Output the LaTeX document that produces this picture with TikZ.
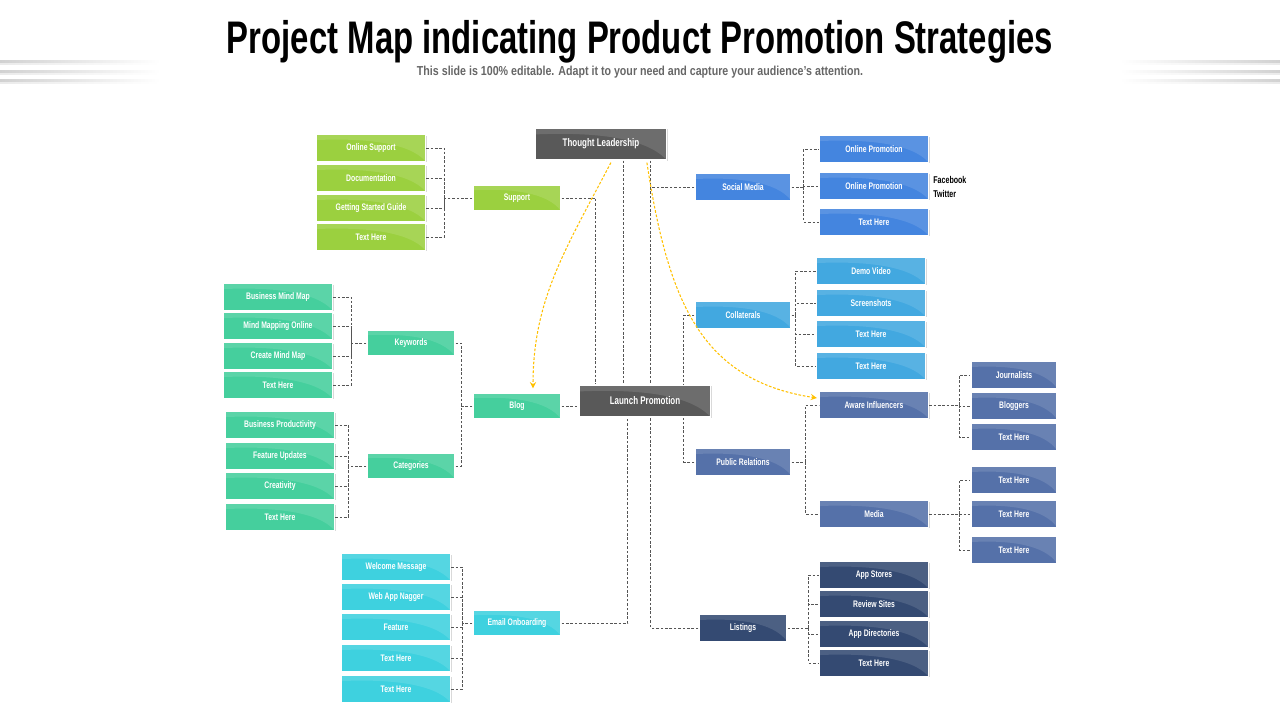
\documentclass[tikz,border=0pt]{standalone}
\usepackage{fontspec}
\setmainfont{Liberation Sans}
\newfontfamily\cond[FakeStretch=0.72]{Liberation Sans}
\newfontfamily\subcond[FakeStretch=0.82]{Liberation Sans}
\usetikzlibrary{calc,shadows}

\definecolor{darkbox}{HTML}{595959}
\definecolor{leafgreen}{HTML}{9BD03F}
\definecolor{teal}{HTML}{45CF9D}
\definecolor{cyanbox}{HTML}{3ED1DF}
\definecolor{bluebox}{HTML}{4485DF}
\definecolor{skybox}{HTML}{42A8E0}
\definecolor{slatebox}{HTML}{5571A9}
\definecolor{navybox}{HTML}{344A72}
\definecolor{linkgray}{HTML}{555555}
\definecolor{gold}{HTML}{FFC000}

\begin{document}
\begin{tikzpicture}[x=0.02cm, y=-0.02cm, >=stealth,
  box/.style={draw=white, line width=0.7pt, inner sep=0pt, minimum height=0.53cm,
    text=white, font=\cond\bfseries\fontsize{5.4}{6}\selectfont,
    drop shadow={opacity=0.3, shadow xshift=0.6pt, shadow yshift=-0.6pt},
    path picture={
      \fill[white, opacity=0.12] let \p1=(path picture bounding box.south west),
        \p2=(path picture bounding box.north east) in
        (\x1,\y2) -- (\x1,{\y2-0.2*(\y2-\y1)})
        .. controls ({\x1+0.45*(\x2-\x1)},{\y2-0.12*(\y2-\y1)}) and ({\x1+0.85*(\x2-\x1)},{\y2-0.3*(\y2-\y1)})
        .. (\x2,\y1) -- (\x2,\y2) -- cycle;
    }},
  bigbox/.style={box, fill=darkbox, minimum width=2.62cm, minimum height=0.64cm,
    font=\cond\bfseries\fontsize{6.3}{7}\selectfont},
  midbox/.style={box, minimum width=1.76cm, minimum height=0.52cm},
  leaf/.style={box, minimum width=2.18cm},
  branch/.style={box, minimum width=1.92cm},
  small/.style={box, minimum width=1.72cm},
  link/.style={draw=linkgray, line width=0.5pt, dash pattern=on 1.5pt off 1pt},
  hint/.style={draw=gold, line width=0.6pt, dash pattern=on 1.5pt off 1pt, ->},
  tag/.style={anchor=west, inner sep=0pt, font=\cond\bfseries\fontsize{5.6}{6}\selectfont}]

\useasboundingbox (0,0) rectangle (1280,720);

% title
\node (title) at (640,42) {\cond\bfseries\fontsize{26}{30}\selectfont Project Map indicating Product Promotion Strategies};
\node[text=black!60] (subtitle) at (640,72) {\subcond\bfseries\fontsize{7.4}{9}\selectfont This slide is 100\% editable. Adapt it to your need and capture your audience’s attention.};
\foreach \y in {60.5,70.5,79.5} {
  \shade[left color=black!18, right color=white] (0,\y) rectangle (160,\y+2);
  \shade[left color=black!8, right color=white] (0,\y+2.5) rectangle (160,\y+3.5);
  \shade[right color=black!18, left color=white] (1120,\y) rectangle (1280,\y+2);
  \shade[right color=black!8, left color=white] (1120,\y+2.5) rectangle (1280,\y+3.5);
}

% main boxes
\node[bigbox] (tl) at (601,144) {Thought Leadership};
\node[bigbox] (lp) at (645,401) {Launch Promotion};

% support
\node[midbox, fill=leafgreen] (sup) at (517,198) {Support};
\node[leaf, fill=leafgreen] (s1) at (371,148) {Online Support};
\node[leaf, fill=leafgreen] (s2) at (371,178) {Documentation};
\node[leaf, fill=leafgreen] (s3) at (371,208) {Getting Started Guide};
\node[leaf, fill=leafgreen] (s4) at (371,237) {Text Here};

% blog
\node[midbox, fill=teal] (blog) at (517,406) {Blog};
\node[midbox, fill=teal] (kw) at (411,343) {Keywords};
\node[midbox, fill=teal] (cat) at (411,466) {Categories};
\node[leaf, fill=teal] (k1) at (278,297) {Business Mind Map};
\node[leaf, fill=teal] (k2) at (278,326) {Mind Mapping Online};
\node[leaf, fill=teal] (k3) at (278,356) {Create Mind Map};
\node[leaf, fill=teal] (k4) at (278,385) {Text Here};
\node[leaf, fill=teal] (c1) at (280,425) {Business Productivity};
\node[leaf, fill=teal] (c2) at (280,456) {Feature Updates};
\node[leaf, fill=teal] (c3) at (280,486) {Creativity};
\node[leaf, fill=teal] (c4) at (280,517) {Text Here};

% email
\node[midbox, fill=cyanbox] (em) at (517,623) {Email Onboarding};
\node[leaf, fill=cyanbox] (e1) at (396,567) {Welcome Message};
\node[leaf, fill=cyanbox] (e2) at (396,597) {Web App Nagger};
\node[leaf, fill=cyanbox] (e3) at (396,627) {Feature};
\node[leaf, fill=cyanbox] (e4) at (396,658) {Text Here};
\node[leaf, fill=cyanbox] (e5) at (396,689) {Text Here};

% social media
\node[branch, fill=bluebox] (soc) at (743,187) {Social Media};
\node[leaf, fill=bluebox] (m1) at (874,149) {Online Promotion};
\node[leaf, fill=bluebox] (m2) at (874,186) {Online Promotion};
\node[leaf, fill=bluebox] (m3) at (874,222) {Text Here};
\node[tag] (fb) at (933,180) {Facebook};
\node[tag] (tw) at (933,194) {Twitter};

% collaterals
\node[branch, fill=skybox] (col) at (743,315) {Collaterals};
\node[leaf, fill=skybox] (o1) at (871,271) {Demo Video};
\node[leaf, fill=skybox] (o2) at (871,303) {Screenshots};
\node[leaf, fill=skybox] (o3) at (871,334) {Text Here};
\node[leaf, fill=skybox] (o4) at (871,366) {Text Here};

% public relations
\node[branch, fill=slatebox] (pr) at (743,462) {Public Relations};
\node[leaf, fill=slatebox] (aw) at (874,405) {Aware Influencers};
\node[leaf, fill=slatebox] (med) at (874,514) {Media};
\node[small, fill=slatebox] (a1) at (1014,375) {Journalists};
\node[small, fill=slatebox] (a2) at (1014,406) {Bloggers};
\node[small, fill=slatebox] (a3) at (1014,437) {Text Here};
\node[small, fill=slatebox] (d1) at (1014,480) {Text Here};
\node[small, fill=slatebox] (d2) at (1014,514) {Text Here};
\node[small, fill=slatebox] (d3) at (1014,550) {Text Here};

% listings
\node[box, fill=navybox, minimum width=1.76cm] (lst) at (743,628) {Listings};
\node[leaf, fill=navybox] (l1) at (874,575) {App Stores};
\node[leaf, fill=navybox] (l2) at (874,604) {Review Sites};
\node[leaf, fill=navybox] (l3) at (874,634) {App Directories};
\node[leaf, fill=navybox] (l4) at (874,663) {Text Here};

% left buses
\draw[link] (sup.west) -- ++(-28,0) coordinate (bS);
\foreach \c in {s1,s2,s3,s4} \draw[link] (\c.east) -| (bS);
\draw[link] (kw.west) -- ++(-15,0) coordinate (bK);
\foreach \c in {k1,k2,k3,k4} \draw[link] (\c.east) -| (bK);
\draw[link] (cat.west) -- ++(-18,0) coordinate (bC);
\foreach \c in {c1,c2,c3,c4} \draw[link] (\c.east) -| (bC);
\draw[link] (blog.west) -- ++(-11,0) coordinate (bB);
\foreach \c in {kw,cat} \draw[link] (\c.east) -| (bB);
\draw[link] (em.west) -- ++(-10,0) coordinate (bE);
\foreach \c in {e1,e2,e3,e4,e5} \draw[link] (\c.east) -| (bE);

% right buses
\draw[link] (soc.east) -- ++(12,0) coordinate (bM);
\foreach \c in {m1,m2,m3} \draw[link] (bM) |- (\c.west);
\draw[link] (col.east) -- ++(4,0) coordinate (bO);
\foreach \c in {o1,o2,o3,o4} \draw[link] (bO) |- (\c.west);
\draw[link] (pr.east) -- ++(14,0) coordinate (bP);
\foreach \c in {aw,med} \draw[link] (bP) |- (\c.west);
\draw[link] (aw.east) -- ++(30,0) coordinate (bA);
\foreach \c in {a1,a2,a3} \draw[link] (bA) |- (\c.west);
\draw[link] (med.east) -- ++(30,0) coordinate (bD);
\foreach \c in {d1,d2,d3} \draw[link] (bD) |- (\c.west);
\draw[link] (lst.east) -- ++(21,0) coordinate (bL);
\foreach \c in {l1,l2,l3,l4} \draw[link] (bL) |- (\c.west);

% trunk lines round the launch box
\draw[link] (sup.east) -| ($(lp.north west)+(17,0)$);
\draw[link] ($(tl.south west)+(89,0)$) -- ($(lp.north west)+(45,0)$);
\draw[link] ($(tl.south west)+(116,0)$) -- ($(lp.north west)+(72,0)$);
\draw[link] (soc.west) -- ++(-43,0);
\draw[link] (col.west) -| ($(lp.north west)+(105,0)$);
\draw[link] (blog.east) -- (lp.west |- blog.east);
\draw[link] (em.east) -| ($(lp.south west)+(49,0)$);
\draw[link] (lst.west) -| ($(lp.south west)+(72,0)$);
\draw[link] (pr.west) -| ($(lp.south west)+(105,0)$);

% hints from thought leadership
\draw[hint] ($(tl.south west)+(76,2)$) .. controls (565,250) and (533,300) .. ($(blog.north)+(16,-4)$);
\draw[hint] ($(tl.south west)+(112,2)$) .. controls (668,300) and (700,380) .. ($(aw.west)+(-2,-7)$);
\end{tikzpicture}
\end{document}
